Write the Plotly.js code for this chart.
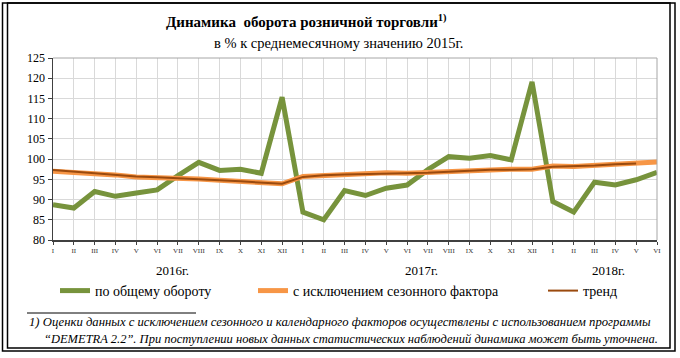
<!DOCTYPE html>
<html>
<head>
<meta charset="utf-8">
<script src="https://cdn.plot.ly/plotly-3.0.1.min.js"></script>
<style>
html,body{margin:0;padding:0;background:#fff;}
#chart{width:680px;height:358px;}
</style>
</head>
<body>
<div id="chart"></div>
<script>
// ---- data ----
const monthLabels = ['I','II','III','IV','V','VI','VII','VIII','IX','X','XI','XII',
                     'I','II','III','IV','V','VI','VII','VIII','IX','X','XI','XII',
                     'I','II','III','IV','V','VI'];
const yearLabels = ['2016г.','2017г.','2018г.'];
const totalTurnover = [88.7, 87.9, 92.0, 90.8, 91.6, 92.4, 95.9, 99.2, 97.2, 97.5, 96.5, 115.3,
                       86.9, 85.0, 92.2, 91.0, 92.8, 93.6, 97.4, 100.6, 100.2, 100.9, 99.8, 119.1,
                       89.5, 86.9, 94.3, 93.6, 94.9, 96.7];
const seasonalAdj = [97.0, 96.8, 96.4, 96.1, 95.6, 95.5, 95.4, 95.1, 94.8, 94.5, 94.2, 93.9,
                     95.7, 96.0, 96.3, 96.4, 96.6, 96.5, 96.7, 96.9, 97.3, 97.5, 97.5, 97.5,
                     98.3, 98.2, 98.4, 98.8, 99.0, 99.3];
const trend = [97.3, 96.9, 96.5, 96.1, 95.7, 95.5, 95.3, 95.1, 94.8, 94.5, 94.2, 93.9,
               95.6, 96.0, 96.2, 96.3, 96.5, 96.5, 96.6, 96.9, 97.2, 97.4, 97.4, 97.5,
               98.1, 98.2, 98.4, 98.7, 98.9];
const seriesNames = ['по общему обороту','с исключением сезонного фактора','тренд'];
const yTicks = [80,85,90,95,100,105,110,115,120,125];

// ---- layout helpers ----
const W = 680, H = 358;
const M = {l:53, r:23, t:58, b:118};
const PW = W - M.l - M.r, PH = H - M.t - M.b;
const px = x => (x - M.l) / PW;
const py = y => (H - M.b - y) / PH;
const xIdx = monthLabels.map((_, i) => i);
const serif = 'Liberation Serif, Times New Roman, serif';

const traces = [
  {x: xIdx, y: totalTurnover, name: seriesNames[0], type: 'scatter', mode: 'lines',
   line: {color: '#77933C', width: 5}, legend: 'legend'},
  {x: xIdx, y: seasonalAdj, name: seriesNames[1], type: 'scatter', mode: 'lines',
   line: {color: '#F79646', width: 5}, legend: 'legend2'},
  {x: xIdx.slice(0, trend.length), y: trend, name: seriesNames[2], type: 'scatter', mode: 'lines',
   line: {color: '#9A4A0E', width: 2}, legend: 'legend3'}
];

const legendBase = {orientation: 'h', xanchor: 'left', yanchor: 'middle',
  font: {family: serif, size: 14, color: '#000'}, bgcolor: 'rgba(0,0,0,0)', borderwidth: 0};

const shapes = [
  {type: 'rect', xref: 'paper', yref: 'paper', x0: px(2.5), x1: px(675), y0: py(351), y1: py(3),
   line: {color: '#000', width: 1.5}, layer: 'above'},
  {type: 'rect', xref: 'paper', yref: 'paper', x0: px(7.5), x1: px(670), y0: py(348), y1: py(3),
   line: {color: '#000', width: 1.5}, layer: 'above'},
  {type: 'line', xref: 'paper', yref: 'paper', x0: 0, x1: 1, y0: 1, y1: 1, line: {color: '#a6a6a6', width: 1}},
  {type: 'line', xref: 'paper', yref: 'paper', x0: 1, x1: 1, y0: 0, y1: 1, line: {color: '#a6a6a6', width: 1}},
  {type: 'line', xref: 'paper', yref: 'paper', x0: px(27), x1: px(196), y0: py(313), y1: py(313),
   line: {color: '#000', width: 1}}
];

const annotations = [
  {text: '<b>Динамика  оборота розничной торговли</b><b><sup>1)</sup></b>', xref: 'paper', yref: 'paper',
   x: px(306), y: py(21), xanchor: 'center', yanchor: 'middle', showarrow: false,
   font: {family: serif, size: 15, color: '#000'}},
  {text: 'в % к среднемесячному значению 2015г.', xref: 'paper', yref: 'paper',
   x: px(212), y: py(43), xanchor: 'left', yanchor: 'middle', showarrow: false,
   font: {family: serif, size: 14.5, color: '#000'}},
  {text: yearLabels[0], xref: 'paper', yref: 'paper', x: px(172), y: py(270), xanchor: 'center', yanchor: 'middle',
   showarrow: false, font: {family: serif, size: 13, color: '#000'}},
  {text: yearLabels[1], xref: 'paper', yref: 'paper', x: px(421), y: py(270), xanchor: 'center', yanchor: 'middle',
   showarrow: false, font: {family: serif, size: 13, color: '#000'}},
  {text: yearLabels[2], xref: 'paper', yref: 'paper', x: px(608), y: py(270), xanchor: 'center', yanchor: 'middle',
   showarrow: false, font: {family: serif, size: 13, color: '#000'}},
  {text: '<i>1) Оценки данных с исключением сезонного и календарного факторов осуществлены с использованием программы</i>',
   xref: 'paper', yref: 'paper', x: px(27), y: py(322), xanchor: 'left', yanchor: 'middle', showarrow: false,
   font: {family: serif, size: 12.7, color: '#000'}},
  {text: '<i>“DEMETRA 2.2”. При поступлении новых данных статистических наблюдений динамика может быть уточнена.</i>',
   xref: 'paper', yref: 'paper', x: px(42), y: py(339), xanchor: 'left', yanchor: 'middle', showarrow: false,
   font: {family: serif, size: 12.5, color: '#000'}}
];

const layout = {
  width: W, height: H,
  margin: {l: M.l, r: M.r, t: M.t, b: M.b, pad: 0},
  paper_bgcolor: '#fff', plot_bgcolor: '#fff',
  showlegend: true,
  legend:  Object.assign({}, legendBase, {x: px(55), y: py(291)}),
  legend2: Object.assign({}, legendBase, {x: px(253), y: py(291)}),
  legend3: Object.assign({}, legendBase, {x: px(543), y: py(291)}),
  xaxis: {
    range: [0, monthLabels.length - 1], tickmode: 'array', tickvals: xIdx, ticktext: monthLabels,
    showgrid: true, gridcolor: '#d9d9d9', gridwidth: 1,
    showline: true, linecolor: '#404040', linewidth: 1.5,
    ticks: 'outside', ticklen: 3, tickcolor: '#404040',
    tickfont: {family: serif, size: 7, color: '#333'}, zeroline: false, fixedrange: true
  },
  yaxis: {
    range: [80, 125], tickmode: 'array', tickvals: yTicks,
    showgrid: true, gridcolor: '#d9d9d9', gridwidth: 1,
    showline: true, linecolor: '#404040', linewidth: 1.5,
    ticks: 'outside', ticklen: 4, tickcolor: '#404040',
    tickfont: {family: serif, size: 12, color: '#000'}, zeroline: false, fixedrange: true
  },
  shapes: shapes,
  annotations: annotations
};

Plotly.newPlot('chart', traces, layout, {displayModeBar: false, staticPlot: true});
</script>
</body>
</html>
